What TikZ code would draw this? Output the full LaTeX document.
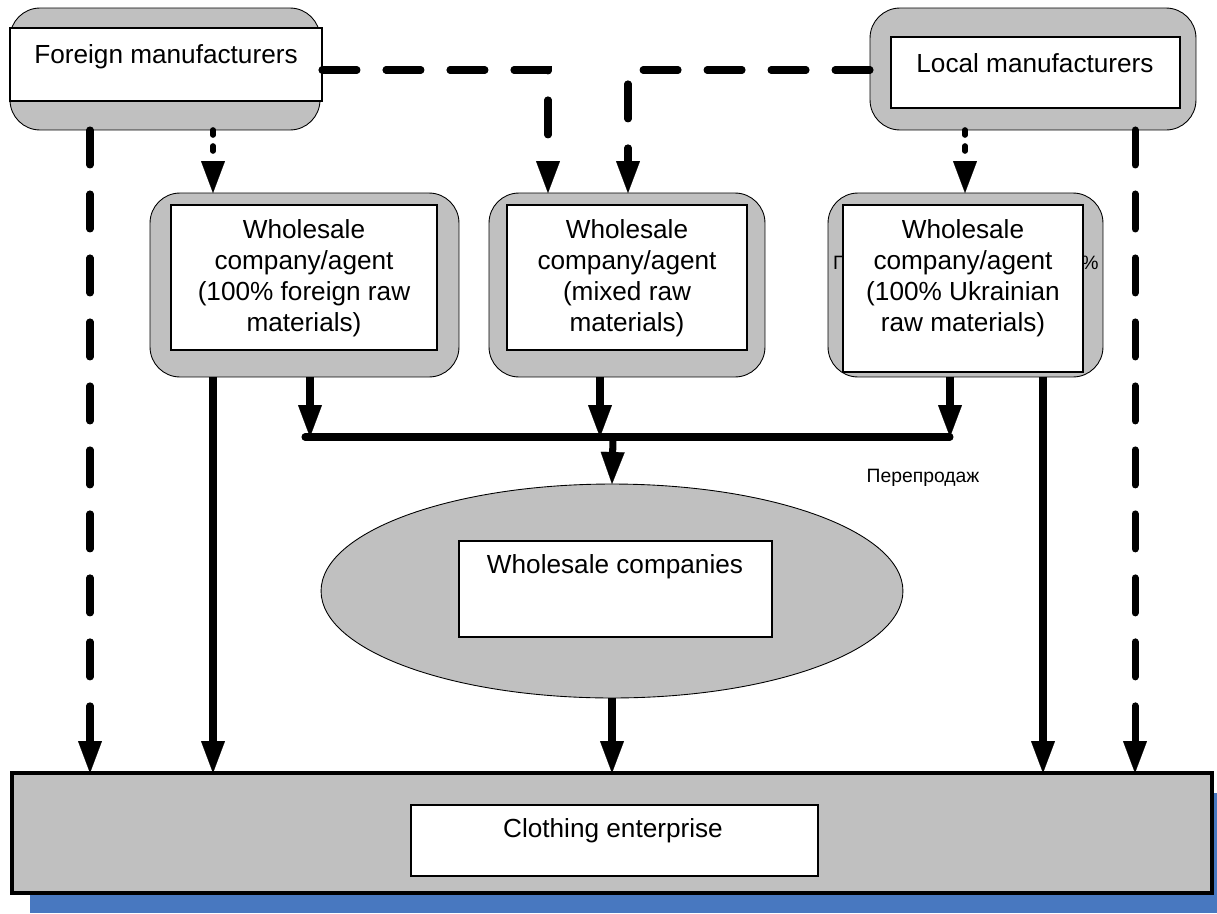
\documentclass[tikz,border=0pt]{standalone}
\usepackage{fontspec}
\setmainfont{Liberation Sans}
\usetikzlibrary{arrows.meta,shapes.geometric}

\definecolor{panelgray}{RGB}{192,192,192}
\definecolor{shadowblue}{RGB}{72,120,192}

\tikzstyle{frame} = [rectangle, draw, line width=0.5pt, fill=panelgray, rounded corners=0.6cm, inner sep=0pt, outer sep=0pt]
\tikzstyle{card} = [rectangle, draw, line width=1.1pt, fill=white, inner sep=0pt, outer sep=0pt]
\tikzstyle{caption} = [align=center, inner sep=0pt, font=\fontsize{14.9}{17.6}\selectfont]
\tikzstyle{note} = [inner sep=0pt, font=\fontsize{11}{13}\selectfont]
\tikzstyle{flow} = [line width=4pt, -{Triangle[length=0.64cm, width=0.48cm, line width=0.1pt]}]
\tikzstyle{longdash} = [flow, line cap=round, dash pattern=on 0.7cm off 0.58cm]
\tikzstyle{shortdash} = [flow, line width=3.2pt, line cap=round, dash pattern=on 0.1cm off 0.22cm]
\tikzstyle{bus} = [line width=4pt, line cap=round]

\begin{document}
\begin{tikzpicture}[x=0.02cm, y=-0.02cm]
        \useasboundingbox (0,0) rectangle (1217,913);
        % blue shadow under the enterprise panel
        \fill[shadowblue] (30,793) rectangle (1217,913);

        % manufacturers
        \node (fout) at (165,69) [frame, minimum width=6.2cm, minimum height=2.44cm] {};
        \node (fin) at (166,64.5) [card, minimum width=6.24cm, minimum height=1.46cm] {};
        \node (ftxt) at (166,57) [caption] {Foreign manufacturers};
        \node (lout) at (1033,69) [frame, minimum width=6.52cm, minimum height=2.44cm] {};
        \node (lin) at (1035.5,72.5) [card, minimum width=5.78cm, minimum height=1.42cm] {};
        \node (ltxt) at (1035,63) [caption] {Local manufacturers};

        % wholesale companies / agents
        \node (w1out) at (304.5,285) [frame, minimum width=6.18cm, minimum height=3.68cm] {};
        \node (w1in) at (304,277.5) [card, minimum width=5.32cm, minimum height=2.9cm] {};
        \node (w1txt) at (304,278) [caption] {Wholesale\\company/agent\\(100\% foreign raw\\materials)};
        \node (w2out) at (627,285) [frame, minimum width=5.52cm, minimum height=3.68cm] {};
        \node (w2in) at (627,277.5) [card, minimum width=4.8cm, minimum height=2.9cm] {};
        \node (w2txt) at (627,278) [caption] {Wholesale\\company/agent\\(mixed raw\\materials)};
        \node (w3out) at (965.5,285) [frame, minimum width=5.5cm, minimum height=3.68cm] {};
        \node (w3l) at (840,263) [note] {П};
        \node (w3r) at (1090,263) [note] {\%};
        \node (w3in) at (963,288.5) [card, minimum width=4.8cm, minimum height=3.34cm] {};
        \node (w3txt) at (963,278) [caption] {Wholesale\\company/agent\\(100\% Ukrainian\\raw materials)};

        % resale level
        \node (resale) at (923,478) [note] {Перепродаж};
        \node (wsout) at (612,591) [ellipse, draw, line width=0.5pt, fill=panelgray, inner sep=0pt, outer sep=0pt, minimum width=11.64cm, minimum height=4.28cm] {};
        \node (wsin) at (615.5,589) [card, minimum width=6.26cm, minimum height=1.92cm] {};
        \node (wstxt) at (615,567) [caption] {Wholesale companies};

        % enterprise
        \node (cout) at (612,833) [rectangle, draw, line width=2.4pt, fill=panelgray, inner sep=0pt, outer sep=0pt, minimum width=24cm, minimum height=2.4cm] {};
        \node (cin) at (614.5,840.5) [card, minimum width=8.14cm, minimum height=1.42cm] {};
        \node (ctxt) at (613,831) [caption] {Clothing enterprise};

        % columns and rows the connectors run along
        \coordinate (row) at (0,70);
        \coordinate (bus) at (0,437);
        \foreach \n/\x in {a/90, b/213, c/310, d/548, e/600, f/612, g/628, m/613, h/950, i/965, j/1043, k/1135}
            \coordinate (col\n) at (\x,0);
        \coordinate (busl) at (305,437);
        \coordinate (busr) at (950,437);

        % supplies from the manufacturers
        \draw[longdash] (fout.south -| cola) -- (cout.north -| cola);
        \draw[shortdash] (fout.south -| colb) -- (w1out.north -| colb);
        \draw[longdash] (fin.east |- row) -| (w2out.north -| cold);
        \draw[longdash] (lout.west |- row) -| (w2out.north -| colg);
        \draw[shortdash] (lout.south -| coli) -- (w3out.north -| coli);
        \draw[longdash] (lout.south -| colk) -- (cout.north -| colk);

        % from the agents
        \draw[flow] (w1out.south -| colb) -- (cout.north -| colb);
        \draw[flow] (w1out.south -| colc) -- (bus -| colc);
        \draw[flow] (w2out.south -| cole) -- (bus -| cole);
        \draw[flow] (w3out.south -| colh) -- (bus -| colh);
        \draw[flow] (w3out.south -| colj) -- (cout.north -| colj);
        \draw[bus] (busl) -- (busr);
        \draw[flow] (bus -| colm) -- (wsout.north);
        \draw[flow] (wsout.south) -- (cout.north -| colf);
\end{tikzpicture}
\end{document}
